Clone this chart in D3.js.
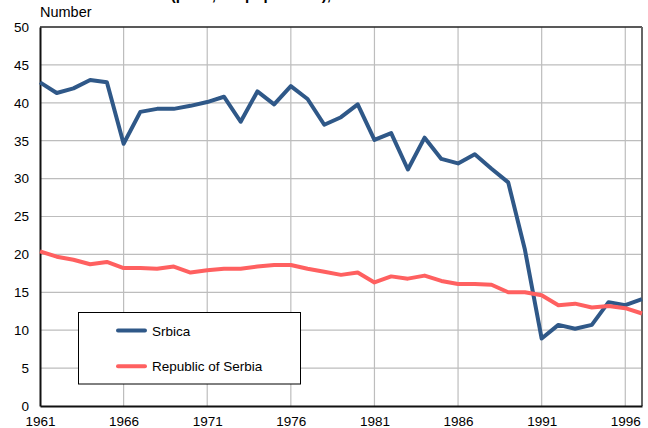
<!DOCTYPE html>
<html>
<head>
<meta charset="utf-8">
<script src="https://cdn.jsdelivr.net/npm/d3@7"></script>
<style>
  html, body { margin: 0; padding: 0; background: #fff; }
  svg text { font-family: "Liberation Sans", Arial, sans-serif; fill: #000; }
</style>
</head>
<body>
<div id="chart"></div>
<script>
var years = d3.range(1961, 1998);
var srbica = [42.7, 41.3, 41.9, 43.0, 42.7, 34.6, 38.8, 39.2, 39.2, 39.6,
              40.1, 40.8, 37.5, 41.5, 39.8, 42.2, 40.5, 37.1, 38.1, 39.8,
              35.1, 36.0, 31.2, 35.4, 32.6, 32.0, 33.2, 31.3, 29.5, 20.6,
              8.9, 10.7, 10.2, 10.7, 13.7, 13.3, 14.1];
var serbia = [20.4, 19.7, 19.3, 18.7, 19.0, 18.2, 18.2, 18.1, 18.4, 17.6,
              17.9, 18.1, 18.1, 18.4, 18.6, 18.6, 18.1, 17.7, 17.3, 17.6,
              16.3, 17.1, 16.8, 17.2, 16.5, 16.1, 16.1, 16.0, 15.0, 15.0,
              14.6, 13.3, 13.5, 13.0, 13.2, 12.9, 12.2];
var yTicks = [0, 5, 10, 15, 20, 25, 30, 35, 40, 45, 50];
var xTicks = [1961, 1966, 1971, 1976, 1981, 1986, 1991, 1996];

var series = [
  {name: 'Srbica', values: srbica, color: '#2f5888'},
  {name: 'Republic of Serbia', values: serbia, color: '#ff6060'}
];

(function() {
  var W = 648, H = 428;
  var pLeft = 40, pRight = 642, pTop = 27, pBottom = 406;

  var svg = d3.select('#chart').append('svg')
    .attr('width', W)
    .attr('height', H);

  var x = d3.scaleLinear().domain([1961, 1997]).range([pLeft, pRight]);
  var y = d3.scaleLinear().domain([0, 50]).range([pBottom, pTop]);

  // title, mostly cut off at the top edge
  svg.append('text')
    .attr('x', 100).attr('y', 0)
    .attr('font-size', 15).attr('font-weight', 'bold')
    .text('Birth rate (per 1,000 population), 1961-1997');

  svg.append('text')
    .attr('x', 40).attr('y', 17)
    .attr('font-size', 14.5)
    .text('Number');

  // grid
  var g = svg.append('g');
  g.selectAll('.hgrid').data(yTicks.filter(function(d) { return d > 0 && d < 50; }))
    .enter().append('line')
    .attr('x1', pLeft).attr('x2', pRight)
    .attr('y1', function(d) { return y(d); })
    .attr('y2', function(d) { return y(d); })
    .attr('stroke', '#bdbdbd').attr('stroke-width', 1.2);
  g.selectAll('.vgrid').data(xTicks.filter(function(d) { return d > 1961; }))
    .enter().append('line')
    .attr('y1', pTop).attr('y2', pBottom)
    .attr('x1', function(d) { return x(d); })
    .attr('x2', function(d) { return x(d); })
    .attr('stroke', '#bdbdbd').attr('stroke-width', 1.2);

  // frame
  g.append('line').attr('x1', pLeft).attr('x2', pRight).attr('y1', pTop).attr('y2', pTop)
    .attr('stroke', '#222').attr('stroke-width', 1.5);
  g.append('line').attr('x1', pRight).attr('x2', pRight).attr('y1', pTop).attr('y2', pBottom)
    .attr('stroke', '#666').attr('stroke-width', 2);

  // axes
  var yAxis = svg.append('g')
    .attr('transform', 'translate(' + pLeft + ',0)')
    .call(d3.axisLeft(y).tickValues(yTicks).tickSize(0).tickPadding(11));
  var xAxis = svg.append('g')
    .attr('transform', 'translate(0,' + pBottom + ')')
    .call(d3.axisBottom(x).tickValues(xTicks).tickFormat(d3.format('d')).tickSize(0).tickPadding(10));
  [yAxis, xAxis].forEach(function(a) {
    a.select('.domain').attr('stroke', '#111').attr('stroke-width', 2);
    a.selectAll('text').attr('font-size', 13.5)
      .attr('font-family', '"Liberation Sans", Arial, sans-serif').attr('fill', '#000');
  });

  // lines
  var line = d3.line()
    .x(function(d, i) { return x(years[i]); })
    .y(function(d) { return y(d); });

  svg.selectAll('.series').data(series).enter().append('path')
    .attr('d', function(s) { return line(s.values); })
    .attr('fill', 'none')
    .attr('stroke', function(s) { return s.color; })
    .attr('stroke-width', 4)
    .attr('stroke-linejoin', 'round');

  // legend
  var lg = svg.append('g');
  lg.append('rect')
    .attr('x', 78.5).attr('y', 312.5).attr('width', 222).attr('height', 71.5)
    .attr('fill', '#fff').attr('stroke', '#000').attr('stroke-width', 1);
  var item = lg.selectAll('.item').data(series).enter().append('g')
    .attr('transform', function(d, i) { return 'translate(0,' + (330.5 + i * 35.7) + ')'; });
  item.append('line')
    .attr('x1', 118).attr('x2', 145).attr('y1', 0).attr('y2', 0)
    .attr('stroke', function(d) { return d.color; })
    .attr('stroke-width', 4).attr('stroke-linecap', 'round');
  item.append('text')
    .attr('x', 152).attr('y', 5)
    .attr('font-size', 13.5)
    .text(function(d) { return d.name; });
})();
</script>
</body>
</html>
